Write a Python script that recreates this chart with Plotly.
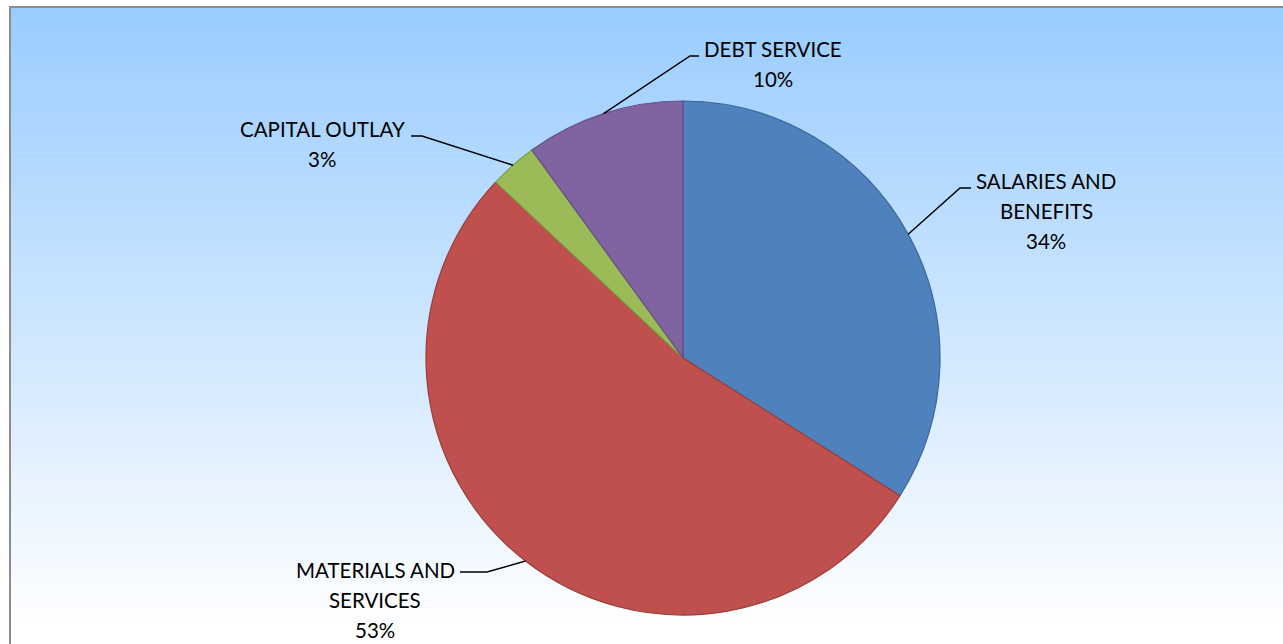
import math
import plotly.graph_objects as go

# Budget breakdown by expense category
categories = ["SALARIES AND BENEFITS", "MATERIALS AND SERVICES", "CAPITAL OUTLAY", "DEBT SERVICE"]
label_lines = [["SALARIES AND", "BENEFITS"], ["MATERIALS AND", "SERVICES"], ["CAPITAL OUTLAY"], ["DEBT SERVICE"]]
shares = [34, 53, 3, 10]

fill_colors = ["#4F81BD", "#C0504D", "#9BBB59", "#8064A2"]
edge_colors = ["#3A6699", "#9A3D3A", "#7C9A45", "#654E85"]

W, H = 1283, 644
FONT = "Lato"
TEXT_SIZE = 20.5
LINE_GAP = 30

# pie geometry in pixels
CX, CY, R = 683, 358, 257


def px(x, y):
    return x / W, 1 - y / H


fig = go.Figure()

fig.add_trace(go.Pie(
    labels=categories,
    values=shares,
    sort=False,
    direction="clockwise",
    rotation=0,
    textinfo="none",
    hoverinfo="label+percent",
    marker=dict(colors=fill_colors, line=dict(color=edge_colors, width=1.2)),
    domain=dict(x=[(CX - R) / W, (CX + R) / W], y=[1 - (CY + R) / H, 1 - (CY - R) / H]),
    showlegend=False,
))

shapes = []

# vertical gradient background (light blue to white)
top_rgb = (153, 204, 255)
g_top, g_bot = 7, 630
steps = 90
for i in range(steps):
    y0 = g_top + (g_bot - g_top) * i / steps
    y1 = g_top + (g_bot - g_top) * (i + 1) / steps + 0.5
    t = (i + 0.5) / steps
    c = tuple(round(v + (255 - v) * t) for v in top_rgb)
    x0p, y0p = px(10, y0)
    x1p, y1p = px(W + 5, y1)
    shapes.append(dict(type="rect", xref="paper", yref="paper", x0=x0p, x1=x1p, y0=y1p, y1=y0p,
                       fillcolor="rgb(%d,%d,%d)" % c, line=dict(width=0), layer="below"))
x0p, y0p = px(10, g_bot)
x1p, y1p = px(W + 5, H + 5)
shapes.append(dict(type="rect", xref="paper", yref="paper", x0=x0p, x1=x1p, y0=y1p, y1=y0p,
                   fillcolor="white", line=dict(width=0), layer="below"))

# chart frame
fx0, fy0 = px(10, 7)
fx1, fy1 = px(W + 5, H + 5)
shapes.append(dict(type="rect", xref="paper", yref="paper", x0=fx0, x1=fx1, y0=fy1, y1=fy0,
                   fillcolor="rgba(0,0,0,0)", line=dict(color="#8C8C8C", width=2), layer="below"))

# label placement: (text center x, first line center y, elbow x, elbow y, tail x)
label_pos = [
    (1046, 181, 960, 188, 971),
    (375, 570, 487, 572, 460),
    (322, 129, 422, 136, 411),
    (773, 49, 690, 56, 699),
]

annotations = []
cum = 0
for i, v in enumerate(shares):
    total = sum(shares)
    mid = (cum + v / 2) / total * 2 * math.pi
    cum += v
    ex = CX + R * math.sin(mid)
    ey = CY - R * math.cos(mid)
    tx, ty, kx, ky, tail = label_pos[i]
    p0 = px(ex, ey)
    p1 = px(kx, ky)
    p2 = px(tail, ky)
    shapes.append(dict(type="path", xref="paper", yref="paper",
                       path="M %f,%f L %f,%f L %f,%f" % (p0[0], p0[1], p1[0], p1[1], p2[0], p2[1]),
                       line=dict(color="black", width=1.5)))
    lines = label_lines[i] + ["%d%%" % round(v / total * 100)]
    for j, s in enumerate(lines):
        ax, ay = px(tx, ty + j * LINE_GAP)
        annotations.append(dict(x=ax, y=ay, xref="paper", yref="paper", text=s, showarrow=False,
                                xanchor="center", yanchor="middle",
                                font=dict(family=FONT, size=TEXT_SIZE, color="black")))

fig.update_layout(
    width=W, height=H,
    margin=dict(l=0, r=0, t=0, b=0),
    paper_bgcolor="white",
    plot_bgcolor="white",
    shapes=shapes,
    annotations=annotations,
)

fig.write_html("out.html")
